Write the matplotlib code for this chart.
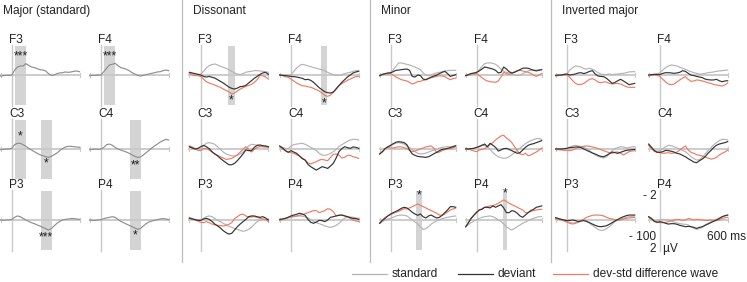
import numpy as np
import matplotlib
matplotlib.use("Agg")
import matplotlib.pyplot as plt

# ============================================================================
# DATA  (uV, negative plotted upwards; samples every 25 ms from -100 to 600)
# ============================================================================

T = np.arange(-100, 601, 25)

GROUPS = ["Major (standard)", "Dissonant", "Minor", "Inverted major"]
ELECTRODES = [["F3", "F4"], ["C3", "C4"], ["P3", "P4"]]

# Major (standard): standard ERP only
MAJOR_F3 = [.08, .05, .03, .03, 0, -.37, -.63, -.71, -.71, -.89, -.76, -.63, -.58, -.5, -.42,
            -.39, -.32, -.11, .03, 0, -.11, -.16, -.18, -.24, -.21, -.24, -.29, -.32, -.26]
MAJOR_F4 = [.05, .03, .03, 0, 0, -.26, -.53, -.79, -.84, -.92, -.74, -.58, -.53, -.45, -.34,
            -.18, -.08, .03, .08, .03, -.03, -.08, -.13, -.18, -.24, -.26, -.34, -.39, -.34]
MAJOR_C3 = [.05, .03, 0, 0, -.05, -.34, -.45, -.45, -.34, -.21, -.05, .08, .21, .34, .45,
            .53, .61, .66, .58, .45, .32, .13, -.03, -.16, -.21, -.21, -.18, -.16, -.13]
MAJOR_C4 = [.05, .03, 0, .03, 0, -.13, -.34, -.39, -.29, -.13, 0, .08, .16, .24, .34,
            .45, .58, .66, .63, .47, .29, .11, -.08, -.24, -.39, -.55, -.66, -.76, -.71]
MAJOR_P3 = [0, .03, 0, 0, -.05, -.21, -.32, -.26, -.13, 0, .11, .21, .29, .39, .47,
            .58, .68, .79, .68, .47, .26, .11, 0, -.05, -.08, -.11, -.11, -.08, -.05]
MAJOR_P4 = [0, .03, .03, 0, -.03, -.11, -.16, -.21, -.26, -.21, -.05, .11, .21, .32, .42,
            .53, .63, .74, .66, .47, .29, .16, .08, .03, -.03, -.08, -.11, -.08, -.03]

# Dissonant
DISS_F3_STD = [-.11, -.08, -.05, -.05, -.05, -.29, -.55, -.74, -.82, -.87, -.79, -.68, -.61, -.53, -.42,
               -.29, -.16, -.08, -.03, -.11, -.21, -.26, -.29, -.34, -.34, -.32, -.29, -.26, -.21]
DISS_F3_DEV = [-.21, -.16, -.11, -.05, 0, .11, .16, .11, .18, .24, .37, .5, .63, .79, .95,
               1.05, 1.11, 1.03, .92, .89, .82, .63, .45, .26, .11, -.05, -.16, -.21, -.05]
DISS_F3_DIF = [-.16, 0, .05, .05, .11, .32, .53, .63, .71, .79, .89, .97, 1.11, 1.21, 1.32,
               1.5, 1.42, 1.26, 1.11, 1.0, .89, .82, .74, .58, .37, .05, .05, .16, .32]
DISS_F4_STD = [0, 0, 0, 0, -.03, -.29, -.55, -.74, -.84, -.79, -.71, -.66, -.58, -.53, -.47,
               -.42, -.32, -.21, -.11, -.03, .03, .03, -.03, -.11, -.16, -.21, -.29, -.34, -.37]
DISS_F4_DEV = [0, .03, .05, .08, .11, .13, .16, .21, .26, .37, .34, .42, .58, .79, 1.0,
               1.16, 1.32, 1.39, 1.42, 1.34, 1.11, .84, .58, .37, .16, 0, -.16, -.24, -.29]
DISS_F4_DIF = [0, .05, .13, .18, .32, .47, .63, .74, .84, .87, .92, .97, 1.05, 1.16, 1.26,
               1.42, 1.61, 1.68, 1.58, 1.37, 1.05, .84, .68, .55, .42, .32, .21, .13, .11]
DISS_C3_STD = [-.18, -.11, -.03, 0, -.03, -.24, -.45, -.5, -.45, -.37, -.18, .03, .24, .39, .47,
               .53, .55, .5, .39, .24, .03, -.24, -.37, -.34, -.29, -.24, -.21, -.18, -.18]
DISS_C3_DEV = [-.18, -.08, 0, -.05, -.18, -.29, -.18, -.03, .21, .39, .55, .74, .92, 1.08, 1.24,
               1.24, 1.13, .92, .66, .39, .08, .13, .13, -.13, -.29, -.32, -.26, -.24, -.18]
DISS_C3_DIF = [-.24, -.16, -.03, .11, .13, -.03, -.03, .08, .24, .39, .5, .61, .71, .82, .79,
               .74, .61, .45, .24, .03, -.18, .03, .24, .03, -.13, -.18, -.18, -.16, -.13]
DISS_C4_STD = [-.18, -.13, -.05, 0, -.24, -.34, -.39, -.42, -.45, -.37, -.26, -.13, -.03, .13, .34,
               .47, .5, .45, .34, .21, .03, -.18, -.34, -.47, -.61, -.71, -.76, -.76, -.71]
DISS_C4_DEV = [-.24, -.08, .13, .26, .13, .24, .34, .55, .76, .87, 1.21, 1.39, 1.53, 1.66, 1.53,
               1.39, 1.45, 1.53, 1.34, 1.13, .71, .21, -.03, -.18, -.11, -.05, -.16, -.13, -.05]
DISS_C4_DIF = [-.18, 0, .13, .24, .29, .34, .45, .55, .71, .87, 1.08, 1.18, 1.08, 1.0, .87,
               .82, .87, .92, .66, .42, .39, .47, .71, .66, .5, .5, .61, .66, .74]
DISS_P3_STD = [-.13, -.08, -.05, -.03, 0, -.13, -.26, -.32, -.26, -.13, .05, .13, .26, .39, .5,
               .58, .66, .74, .82, .89, .84, .74, .58, .34, .13, 0, -.05, -.05, 0]
DISS_P3_DEV = [-.13, -.08, -.03, .03, .03, -.08, -.13, -.05, .11, .32, .47, .63, .84, 1.0, 1.11,
               1.05, .79, .53, .32, .13, -.05, -.26, -.32, -.32, -.26, -.21, -.26, -.16, 0]
DISS_P3_DIF = [-.21, -.11, 0, .08, .18, .21, .13, .21, .32, .37, .42, .45, .47, .42, .34,
               .21, -.11, -.26, -.42, -.47, -.32, -.21, -.24, -.26, -.21, -.13, -.08, -.03, .13]
DISS_P4_STD = [0, -.05, -.11, -.16, -.21, -.26, -.29, -.32, -.29, -.24, -.16, -.05, .11, .21, .29,
               .37, .47, .53, .58, .53, .42, .26, .05, -.13, -.26, -.24, -.21, -.16, -.13]
DISS_P4_DEV = [-.05, -.08, -.13, -.21, -.32, -.39, -.45, -.53, -.47, -.37, -.05, .18, .26, .16, .03,
               .05, .13, 0, -.21, -.26, -.32, -.37, -.39, -.32, -.26, -.18, -.13, -.11, -.05]
DISS_P4_DIF = [.05, -.05, -.13, -.21, -.26, -.29, -.32, -.37, -.42, -.5, -.58, -.66, -.74, -.74, -.58,
               -.66, -.74, -.89, -.84, -.66, -.32, -.39, -.39, -.34, -.26, -.13, 0, .08, .13]

# Minor
MINOR_F3_STD = [.05, 0, -.03, -.05, -.11, -.42, -.68, -.95, -.95, -.89, -.84, -.79, -.71, -.63, -.53,
                -.42, -.16, 0, .05, 0, -.11, -.16, -.21, -.26, -.32, -.34, -.37, -.37, -.37]
MINOR_F3_DEV = [.05, -.05, -.11, -.16, -.18, -.26, -.37, -.39, -.42, -.45, -.47, -.37, .11, .16, 0,
                .05, .32, .37, .26, .16, .08, 0, -.11, -.21, -.29, -.11, .11, .05, -.03]
MINOR_F3_DIF = [.05, -.05, -.11, -.11, -.11, 0, .16, .26, .37, .42, .47, .58, .71, .63, .53,
                .5, .42, .37, .29, .21, .16, .11, .05, .08, .13, .26, .37, .29, .24]
MINOR_F4_STD = [.05, .03, -.03, -.05, -.11, -.42, -.68, -.89, -.95, -.95, -.92, -.84, -.68, -.47, -.29,
                -.21, -.16, -.08, 0, .03, 0, -.11, -.21, -.32, -.37, -.39, -.39, -.42, -.42]
MINOR_F4_DEV = [.05, -.03, -.11, -.16, -.21, -.32, -.47, -.63, -.58, -.53, -.47, -.37, -.16, -.21, -.63,
                -.47, -.26, -.16, -.21, -.32, -.42, -.53, -.55, -.53, -.45, -.37, -.32, -.37, -.42]
MINOR_F4_DIF = [.05, -.03, -.11, -.11, -.11, .05, .21, .37, .47, .53, .55, .58, .47, .16, -.21,
                -.11, -.05, -.11, -.26, -.34, -.37, -.32, -.26, -.21, -.13, 0, .11, 0, -.11]
MINOR_C3_STD = [.39, .21, 0, -.13, -.24, -.37, -.47, -.5, -.45, -.39, -.24, -.11, .05, .21, .34,
                .39, .37, .32, .24, .16, .08, 0, -.08, -.13, -.16, -.18, -.18, -.21, -.26]
MINOR_C3_DEV = [.39, .21, -.03, -.18, -.29, -.42, -.53, -.58, -.55, -.5, -.34, .08, .39, .5, .58,
                .61, .63, .66, .61, .5, .37, .26, .13, .03, 0, -.05, -.11, -.18, -.26]
MINOR_C3_DIF = [.39, .21, -.03, -.13, -.08, -.08, -.13, -.18, -.16, -.11, -.03, .11, .21, .16, .08,
                0, -.08, -.16, -.21, -.24, -.05, .29, .24, .13, .05, 0, -.03, -.08, -.18]
MINOR_C4_STD = [0, 0, -.03, -.05, -.13, -.24, -.32, -.26, -.18, .03, .29, .47, .61, .68, .74,
                .71, .61, .45, .29, .08, -.08, -.24, -.42, -.55, -.66, -.74, -.82, -.82, -.76]
MINOR_C4_DEV = [0, 0, -.03, -.05, -.13, -.18, -.29, -.39, -.18, -.45, -.29, -.13, .16, .08, -.03,
                -.05, .03, .13, .24, .34, .29, .08, -.13, -.29, -.37, -.42, -.5, -.58, -.66]
MINOR_C4_DIF = [-.05, 0, .08, .16, .21, .08, .03, -.03, -.18, -.34, -.5, -.71, -.87, -1.03, -1.08,
                -.87, -.71, -.5, -.18, .13, .39, .45, .34, .53, .47, .34, .24, .08, -.05]
MINOR_P3_STD = [.26, .11, 0, -.08, -.13, -.21, -.32, -.37, -.39, -.37, -.32, -.16, 0, .16, .32,
                .53, .74, .68, .53, .32, .18, .05, -.03, -.11, -.16, -.21, -.26, -.29, -.32]
MINOR_P3_DEV = [.26, .03, -.13, -.32, -.47, -.58, -.68, -.79, -.92, -1.0, -.95, -.79, -.61, -.47, -.37,
                -.47, -.26, -.16, -.32, -.39, -.26, -.16, -.21, -.37, -.58, -.79, -1.05, -1.05, -1.0]
MINOR_P3_DIF = [.26, .03, -.21, -.32, -.42, -.53, -.61, -.68, -.79, -.89, -.87, -.95, -1.05, -1.16, -1.26,
                -1.16, -1.05, -.95, -.84, -.74, -.63, -.53, -.39, -.37, -.47, -.63, -.79, -.87, -.92]
MINOR_P4_STD = [.53, .37, .21, .08, 0, -.13, -.21, -.26, -.29, -.32, -.26, -.16, 0, .11, .32,
                .53, .68, .79, .66, .53, .39, .26, .16, .05, -.05, -.13, -.21, -.26, -.26]
MINOR_P4_DEV = [.53, .21, -.13, -.37, -.58, -.79, -.84, -1.0, -1.0, -.95, -1.11, -1.0, -1.11, -1.21, -.95,
                -.58, -.58, -.74, -.68, -.53, -.32, -.21, -.39, -.58, -.74, -.84, -1.0, -1.05, -1.11]
MINOR_P4_DIF = [.53, .21, -.13, -.39, -.63, -.79, -.89, -1.0, -1.05, -1.11, -1.13, -1.21, -1.32, -1.45, -1.58,
                -1.47, -1.32, -1.21, -1.11, -1.0, -.89, -.79, -.58, -.58, -.68, -.74, -.79, -.82, -.84]

# Inverted major
INV_F3_STD = [.03, 0, 0, -.05, -.08, -.39, -.58, -.71, -.68, -.63, -.5, -.47, -.53, -.45, -.34,
              -.18, -.08, -.03, -.03, -.08, -.03, -.05, -.08, -.11, -.13, -.18, -.24, -.26, -.26]
INV_F3_DEV = [.03, 0, 0, -.05, -.08, 0, -.03, -.08, -.16, -.18, -.11, -.18, -.29, -.34, -.08,
              .08, .11, .13, .26, .45, .66, .58, .45, .34, .47, .61, .76, .71, .66]
INV_F3_DIF = [.08, .05, .03, 0, 0, .18, .45, .66, .76, .74, .66, .5, .34, .29, .39,
              .55, .61, .55, .55, .66, .71, .68, .66, .71, .82, .92, .97, .97, .97]
INV_F4_STD = [0, -.03, -.05, -.08, -.18, -.39, -.58, -.71, -.79, -.76, -.71, -.61, -.53, -.45, -.34,
              -.26, -.18, -.13, -.08, -.08, -.13, -.18, -.21, -.24, -.29, -.32, -.34, -.37, -.39]
INV_F4_DEV = [0, -.03, -.05, -.05, -.03, -.13, -.18, -.18, -.16, -.13, -.16, -.21, -.34, -.29, -.13,
              0, .05, .11, .16, .21, .32, .37, .39, .39, .34, .45, .53, .47, .45]
INV_F4_DIF = [.08, .03, 0, .03, .13, .34, .55, .71, .76, .71, .55, .39, .24, .13, .34,
              .5, .47, .39, .42, .47, .53, .61, .66, .74, .79, .82, .87, .79, .63]
INV_C3_STD = [0, 0, 0, -.03, -.05, -.16, -.24, -.29, -.24, -.18, -.11, -.03, .13, .29, .47,
              .58, .66, .71, .61, .39, .13, -.03, -.11, -.18, -.16, -.08, -.11, -.16, -.18]
INV_C3_DEV = [0, 0, 0, -.03, -.05, -.11, -.13, -.16, -.16, -.11, 0, .11, .21, .32, .39,
              .5, .58, .61, .5, .37, .24, .29, .34, .26, .18, .11, .08, .05, .03]
INV_C3_DIF = [.03, .05, .08, .11, .11, .13, .08, -.03, -.13, -.18, -.21, -.24, -.21, -.16, -.11,
              -.03, .05, .13, .21, .29, .34, .24, .24, .32, .47, .34, .21, .16, .13]
INV_C4_STD = [-.32, -.13, .08, .18, .13, -.03, -.18, -.29, -.26, -.18, -.08, 0, .11, .21, .39,
              .61, .76, .87, .84, .66, .39, .13, -.08, -.32, -.5, -.66, -.76, -.76, -.71]
INV_C4_DEV = [-.39, -.13, .13, .26, .26, .21, .11, .13, .18, .24, .34, .39, .5, .61, .76,
              .89, 1.03, 1.08, .92, .79, .61, .34, .13, -.11, -.29, -.39, -.45, -.5, -.58]
INV_C4_DIF = [-.29, -.03, .18, .26, .29, .34, .32, .29, .34, .32, .24, .08, -.08, -.24, .08,
              .26, .34, .45, .5, .55, .63, .71, .79, .76, .66, .47, .34, .24, .08]
INV_P3_STD = [-.18, -.11, -.05, .03, .11, .18, .24, .21, .13, .05, .03, .13, .26, .42, .58,
              .74, .82, .79, .68, .53, .32, .13, 0, -.08, -.13, -.21, -.26, -.29, -.32]
INV_P3_DEV = [-.18, -.11, -.05, 0, .05, .03, 0, .05, .13, .08, .05, .11, .21, .32, .42,
              .5, .53, .5, .45, .34, .21, .08, -.05, -.16, -.26, -.34, -.39, -.39, -.39]
INV_P3_DIF = [-.11, -.05, 0, .08, .18, .26, .32, .26, .18, .05, -.08, -.21, -.29, -.37, -.39,
              -.39, -.37, -.32, -.21, -.13, -.08, -.03, .03, 0, -.08, -.13, -.16, -.18, -.21]
INV_P4_STD = [-.26, -.13, .05, .08, 0, -.05, -.03, 0, .08, .16, .24, .29, .32, .34, .39,
              .53, .66, .74, .68, .58, .39, .26, .16, .05, -.05, -.16, -.24, -.32, -.39]
INV_P4_DEV = [-.26, -.11, .11, .18, .13, .18, .26, .32, .29, .29, .34, .42, .47, .53, .5,
              .53, .58, .66, .58, .53, .42, .32, .21, .11, 0, -.11, -.26, -.34, -.39]
INV_P4_DIF = [-.21, -.08, .11, .18, .21, .21, .18, .13, .05, 0, -.05, -.03, .03, 0, -.11,
              -.08, 0, -.05, -.03, 0, .03, .03, 0, .03, .05, 0, -.11, -.18, -.21]

# significant windows (ms) and stars: electrode -> [(t0, t1, stars, star_uV)]
MAJOR_SIG = {"F3": [(30, 125, "***", -1.45)], "F4": [(30, 125, "***", -1.45)],
             "C3": [(30, 125, "*", -0.95), (255, 355, "*", 1.15)],
             "C4": [(260, 355, "**", 1.3)], "P3": [(255, 355, "***", 1.35)],
             "P4": [(260, 355, "*", 1.2)]}
DISS_SIG = {"F3": [(245, 300, "*", 2.0)], "F4": [(265, 315, "*", 2.2)]}
MINOR_SIG = {"P3": [(237, 290, "*", -1.9)], "P4": [(240, 285, "*", -2.1)]}

# ============================================================================
# STYLE
# ============================================================================

FS = 8.6
plt.rcParams.update({
    "font.family": ["Liberation Sans", "DejaVu Sans"],
    "font.size": FS,
    "text.color": "#222222",
})

C_STD = "#b4b4b4"
C_STD_MAJOR = "#8e8e8e"
C_DEV = "#333333"
C_DIF = "#ef7b63"
C_AXIS = "#c8c8c8"
C_BAND = "#d4d4d4"

W, H = 747, 282
PX_PER_UV = 12.7
ABOVE, BELOW = 44, 40          # axes extent (px) above / below the baseline
ROW_BASE = [75, 149, 220]      # baseline y (px from top) per electrode row
COL_LEFT = [[0.5, 89.7], [189.4, 279.7], [379.7, 465.7], [555.7, 648.7]]
COL_W = [79, 79, 76, 79]

TRACES = {
    0: {"F3": [MAJOR_F3], "F4": [MAJOR_F4], "C3": [MAJOR_C3], "C4": [MAJOR_C4],
        "P3": [MAJOR_P3], "P4": [MAJOR_P4]},
    1: {"F3": [DISS_F3_STD, DISS_F3_DEV, DISS_F3_DIF], "F4": [DISS_F4_STD, DISS_F4_DEV, DISS_F4_DIF],
        "C3": [DISS_C3_STD, DISS_C3_DEV, DISS_C3_DIF], "C4": [DISS_C4_STD, DISS_C4_DEV, DISS_C4_DIF],
        "P3": [DISS_P3_STD, DISS_P3_DEV, DISS_P3_DIF], "P4": [DISS_P4_STD, DISS_P4_DEV, DISS_P4_DIF]},
    2: {"F3": [MINOR_F3_STD, MINOR_F3_DEV, MINOR_F3_DIF], "F4": [MINOR_F4_STD, MINOR_F4_DEV, MINOR_F4_DIF],
        "C3": [MINOR_C3_STD, MINOR_C3_DEV, MINOR_C3_DIF], "C4": [MINOR_C4_STD, MINOR_C4_DEV, MINOR_C4_DIF],
        "P3": [MINOR_P3_STD, MINOR_P3_DEV, MINOR_P3_DIF], "P4": [MINOR_P4_STD, MINOR_P4_DEV, MINOR_P4_DIF]},
    3: {"F3": [INV_F3_STD, INV_F3_DEV, INV_F3_DIF], "F4": [INV_F4_STD, INV_F4_DEV, INV_F4_DIF],
        "C3": [INV_C3_STD, INV_C3_DEV, INV_C3_DIF], "C4": [INV_C4_STD, INV_C4_DEV, INV_C4_DIF],
        "P3": [INV_P3_STD, INV_P3_DEV, INV_P3_DIF], "P4": [INV_P4_STD, INV_P4_DEV, INV_P4_DIF]},
}
SIGS = {0: MAJOR_SIG, 1: DISS_SIG, 2: MINOR_SIG, 3: {}}
TITLE_X = [3, 193, 381, 562]

# ============================================================================
# PLOT
# ============================================================================

fig = plt.figure(figsize=(W / 100, H / 100), dpi=100)

# full-figure overlay in pixel units for separators, titles and legend
ov = fig.add_axes([0, 0, 1, 1])
ov.set_xlim(0, W)
ov.set_ylim(H, 0)
ov.axis("off")
for xs in (182, 370, 550.5):
    ov.plot([xs, xs], [0, 262], color="#bdbdbd", lw=0.9)
for g, title in enumerate(GROUPS):
    ov.text(TITLE_X[g], 11, title, ha="left", va="center", fontsize=FS)


def make_panel(left, base, width):
    ax = fig.add_axes([left / W, 1 - (base + BELOW) / H, width / W, (ABOVE + BELOW) / H])
    ax.set_xlim(-100, 600)
    ax.set_ylim(BELOW / PX_PER_UV, -ABOVE / PX_PER_UV)
    ax.axis("off")
    return ax


for g in range(4):
    for r, pair in enumerate(ELECTRODES):
        for c, el in enumerate(pair):
            ax = make_panel(COL_LEFT[g][c], ROW_BASE[r], COL_W[g])
            for (t0, t1, stars, sy) in SIGS[g].get(el, []):
                ax.fill_between([t0, t1], -2.25, 2.4, color=C_BAND, lw=0, zorder=1)
                ax.text((t0 + t1) / 2, sy, stars, ha="center", va="center",
                        fontsize=8.8, color="#1e1e1e", zorder=6)
            ax.plot([-100, 600], [0, 0], color=C_AXIS, lw=1.3, zorder=2, clip_on=False)
            ax.plot([-100, -100], [-0.18, 0.18], color=C_AXIS, lw=0.8, zorder=2, clip_on=False)
            ax.plot([600, 600], [-0.18, 0.18], color=C_AXIS, lw=0.8, zorder=2, clip_on=False)
            ax.plot([0, 0], [-2.4, 2.45], color=C_AXIS, lw=1.0, zorder=2, clip_on=False)
            ax.text(-25, -2.72, el, ha="left", va="center", fontsize=FS, zorder=6)

            series = TRACES[g][el]
            if g == 0:
                ax.plot(T, series[0], color=C_STD_MAJOR, lw=0.85, zorder=4, clip_on=False)
            else:
                std, dev, dif = series
                ax.plot(T, std, color=C_STD, lw=0.85, zorder=3, clip_on=False)
                ax.plot(T, dif, color=C_DIF, lw=0.85, zorder=4, clip_on=False)
                ax.plot(T, dev, color=C_DEV, lw=0.85, zorder=5, clip_on=False)

# scale annotation next to inverted-major P4
ov.text(657, 196, "- 2", ha="right", va="center", fontsize=FS)
ov.text(656, 237, "- 100", ha="right", va="center", fontsize=FS)
ov.text(746, 237, "600 ms", ha="right", va="center", fontsize=FS)
ov.text(650, 249, "2  \u00b5V", ha="left", va="center", fontsize=FS)

# legend
LEG = [("standard", C_STD, 352), ("deviant", C_DEV, 458), ("dev-std difference wave", C_DIF, 553)]
for label, col, x0 in LEG:
    ov.plot([x0, x0 + 35], [274, 274], color=col, lw=0.9)
    ov.text(x0 + 40, 274, label, ha="left", va="center", fontsize=FS)

fig.savefig("out.png", dpi=100)
